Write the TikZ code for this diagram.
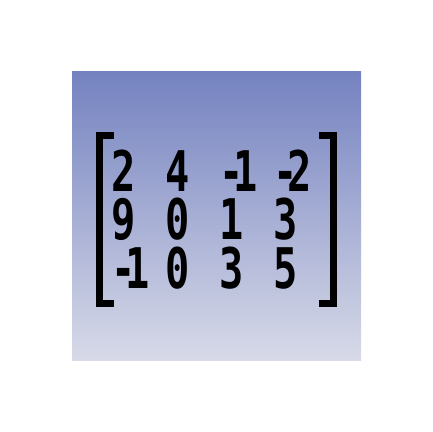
\documentclass[tikz,border=0pt]{standalone}
\usepackage{fontspec}
\setmonofont{DejaVu Sans Mono}
\usepackage{tikz}
\definecolor{bgtop}{RGB}{116,130,192}
\definecolor{bgbottom}{RGB}{216,218,232}
\begin{document}
\begin{tikzpicture}[x=0.5pt, y=0.5pt]
            \tikzstyle{every node}+=[inner sep=0pt, anchor=base west, text height=0.73em, text depth=0pt, font=\ttfamily\bfseries\fontsize{28}{28}\selectfont, xscale=0.72]
            \tikzstyle{bracket}=[black, line width=3.5pt, line cap=butt, line join=miter]
            \useasboundingbox (0,0) rectangle (432,432);
            \shade [top color=bgtop, bottom color=bgbottom] (72,71) rectangle (361,360);
            \node (e11) at (111,240) {2};
            \node (e12) at (165,240) {4};
            \node (e13) at (219,240) {-\kern-0.25em1};
            \node (e14) at (273,240) {-\kern-0.25em2};
            \node (e21) at (111,192) {9};
            \node (e22) at (165,192) {0};
            \node (e23) at (219,192) {1};
            \node (e24) at (273,192) {3};
            \node (e31) at (111,143) {-\kern-0.25em1};
            \node (e32) at (165,143) {0};
            \node (e33) at (219,143) {3};
            \node (e34) at (273,143) {5};
            \draw [bracket] (114,296.5) -- (99.5,296.5) -- (99.5,128.5) -- (114,128.5);
            \draw [bracket] (319,296.5) -- (333.5,296.5) -- (333.5,128.5) -- (319,128.5);
        \end{tikzpicture}
\end{document}
